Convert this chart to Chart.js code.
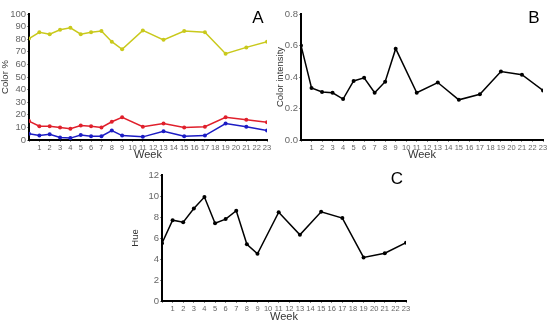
<!DOCTYPE html>
<html>
<head>
<meta charset="utf-8">
<script src="https://cdn.jsdelivr.net/npm/chart.js@4"></script>
<style>
  body { margin: 0; background: #fff; }
  .box { position: absolute; }
</style>
</head>
<body>
<div class="box" style="left:0px;top:0px;width:275px;height:162px"><canvas id="chartA"></canvas></div>
<div class="box" style="left:275px;top:0px;width:275px;height:162px"><canvas id="chartB"></canvas></div>
<div class="box" style="left:130px;top:160px;width:290px;height:164px"><canvas id="chartC"></canvas></div>
<script>
const weeks = [0, 1, 2, 3, 4, 5, 6, 7, 8, 9, 11, 13, 15, 17, 19, 21, 23];

// panel A - colour %
const yellowPct = [80.5, 85.5, 84, 87.5, 89, 84, 85.5, 86.5, 78, 72, 87, 79.5, 86.5, 85.5, 68.5, 73.5, 78];
const redPct    = [15, 11, 11, 10, 9, 11.5, 11, 10, 14.5, 18, 10.5, 13, 10, 10.5, 18, 16, 14];
const bluePct   = [5, 3.5, 4.5, 2, 1.5, 4, 3, 3, 7.5, 3.5, 2.5, 7, 3, 3.5, 13, 10.5, 7.5];

// panel B - colour intensity
const intensity = [0.6, 0.33, 0.305, 0.30, 0.26, 0.375, 0.395, 0.30, 0.37, 0.58, 0.30, 0.365, 0.255, 0.29, 0.435, 0.415, 0.315];

// panel C - hue
const hue = [5.5, 7.7, 7.5, 8.8, 9.9, 7.4, 7.8, 8.6, 5.4, 4.5, 8.45, 6.3, 8.5, 7.9, 4.15, 4.55, 5.55];

const FONT = "'Liberation Sans', Arial, sans-serif";
Chart.defaults.font.family = FONT;
Chart.defaults.animation = false;

function pts(vals) {
  return weeks.map((w, i) => ({ x: w, y: vals[i] }));
}

function line(vals, color) {
  return {
    data: pts(vals),
    borderColor: color,
    backgroundColor: color,
    borderWidth: 1.5,
    pointRadius: 2,
    pointBorderWidth: 0,
    tension: 0
  };
}

// big panel letter in the top right corner
const letterPlugin = {
  id: 'letter',
  afterDraw(chart, args, opts) {
    const ctx = chart.ctx;
    ctx.save();
    ctx.font = '17px ' + FONT;
    ctx.fillStyle = '#000';
    ctx.textAlign = 'center';
    ctx.textBaseline = 'middle';
    ctx.fillText(opts.text, chart.chartArea.right - 9, chart.chartArea.top + 4);
    ctx.restore();
  }
};

function makeChart(id, datasets, yMin, yMax, yStep, yTitle, letter, yDigits, yWidth, xHeight, pad) {
  return new Chart(document.getElementById(id), {
    type: 'line',
    data: { datasets: datasets },
    plugins: [letterPlugin],
    options: {
      responsive: true,
      maintainAspectRatio: false,
      layout: { padding: pad },
      plugins: {
        legend: { display: false },
        tooltip: { enabled: false },
        letter: { text: letter }
      },
      scales: {
        x: {
          type: 'linear',
          min: 0,
          max: 23,
          afterFit: s => { s.height = xHeight; },
          ticks: {
            stepSize: 1,
            autoSkip: false,
            maxRotation: 0,
            padding: 1,
            color: '#666',
            font: { size: 7.5 },
            callback: v => v === 0 ? '' : v
          },
          grid: {
            display: true,
            drawOnChartArea: false,
            tickLength: 2,
            color: '#888'
          },
          border: { color: '#000', width: 2 },
          title: {
            display: true,
            text: 'Week',
            color: '#333',
            font: { size: 11 },
            padding: { top: 0, bottom: 0 }
          }
        },
        y: {
          min: yMin,
          max: yMax,
          afterFit: s => { s.width = yWidth; },
          ticks: {
            stepSize: yStep,
            autoSkip: false,
            padding: 1,
            color: '#666',
            font: { size: 9.5 },
            callback: v => v.toFixed(yDigits)
          },
          grid: {
            display: true,
            drawOnChartArea: false,
            tickLength: 2,
            color: '#888'
          },
          border: { color: '#000', width: 2 },
          title: {
            display: true,
            text: yTitle,
            color: '#333',
            font: { size: 9.5 },
            padding: { top: 0, bottom: 0 }
          }
        }
      }
    }
  });
}

makeChart('chartA', [
  line(yellowPct, '#c9c91c'),
  line(redPct, '#e0202c'),
  line(bluePct, '#1c1cc4')
], 0, 100, 10, 'Color %', 'A', 0, 29, 22, { top: 14, right: 8, left: 0, bottom: 0 });

makeChart('chartB', [
  line(intensity, '#000')
], 0, 0.8, 0.2, 'Color intensity', 'B', 1, 26, 22, { top: 14, right: 7, left: 0, bottom: 0 });

makeChart('chartC', [
  line(hue, '#000')
], 0, 12, 2, 'Hue', 'C', 0, 32, 23, { top: 15, right: 14, left: 0, bottom: 0 });
</script>
</body>
</html>
